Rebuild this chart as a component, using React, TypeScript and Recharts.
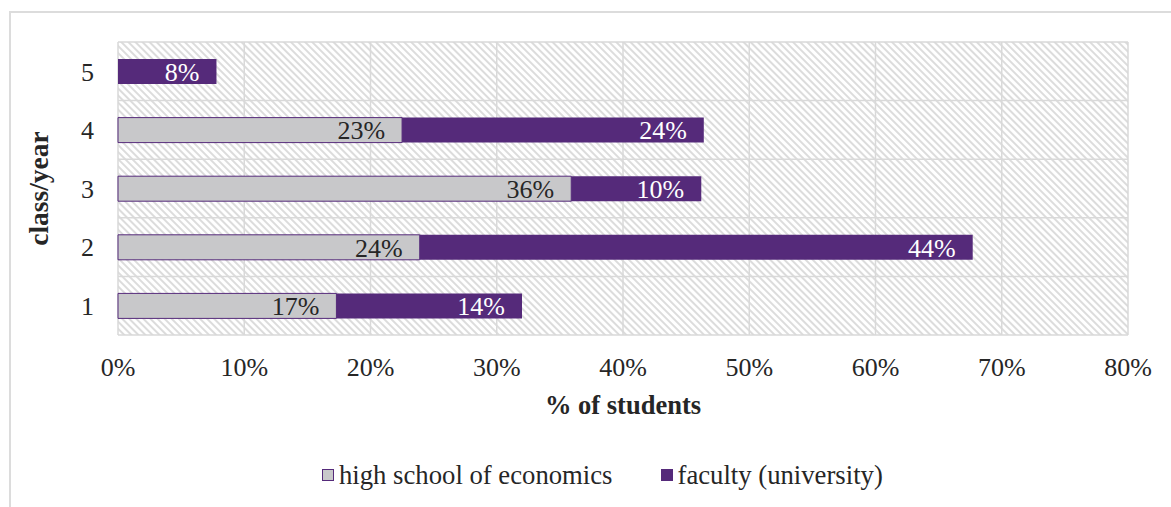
import React from 'react';
import { BarChart, Bar, XAxis, YAxis, CartesianGrid, Legend, LabelList } from 'recharts';

const classes = ['1', '2', '3', '4', '5'];
const highSchool = [17.3, 23.9, 35.9, 22.5, 0];
const faculty = [14.7, 43.8, 10.3, 23.9, 7.8];
const highSchoolLabels = ['17%', '24%', '36%', '23%', ''];
const facultyLabels = ['14%', '44%', '10%', '24%', '8%'];
const xTicks = [0, 10, 20, 30, 40, 50, 60, 70, 80];
const seriesNames = ['high school of economics', 'faculty (university)'];
const xTitle = '% of students';
const yTitle = 'class/year';

const data = classes.map((c, i) => ({
  cls: c,
  school: highSchool[i],
  faculty: faculty[i],
  schoolLabel: highSchoolLabels[i],
  facultyLabel: facultyLabels[i],
}));

const FONT = "'Liberation Serif', 'Times New Roman', serif";
const PURPLE = '#552a7a';
const GRAY = '#c8c8ca';
const TEXT = '#262626';
const GRID = '#d9d9d9';

const renderLegend = (props: any) => {
  const payload = [...(props.payload || [])].sort(
    (a: any, b: any) => seriesNames.indexOf(a.value) - seriesNames.indexOf(b.value)
  );
  return (
    <div style={{ display: 'flex', alignItems: 'center', fontFamily: FONT, fontSize: 26.7, color: TEXT, lineHeight: '30px' }}>
      {payload.map((p: any, i: number) => (
        <div key={i} style={{ display: 'flex', alignItems: 'center', marginRight: i === 0 ? 48 : 0 }}>
          <span
            style={{
              display: 'inline-block',
              width: 12,
              height: 12,
              background: p.color,
              border: `1.5px solid ${PURPLE}`,
              boxSizing: 'border-box',
              marginRight: 5,
            }}
          />
          <span>{p.value}</span>
        </div>
      ))}
    </div>
  );
};

const YTitle = (props: any) => {
  const vb = props.viewBox || { x: 0, y: 0, width: 0, height: 0 };
  const cx = 38;
  const cy = vb.y + vb.height / 2;
  return (
    <text
      x={cx}
      y={cy}
      transform={`rotate(-90 ${cx} ${cy})`}
      textAnchor="middle"
      dominantBaseline="central"
      style={{ fontFamily: FONT, fontSize: 27.5, fontWeight: 'bold', fill: TEXT }}
    >
      {yTitle}
    </text>
  );
};

const XTitle = (props: any) => {
  const vb = props.viewBox || { x: 0, y: 0, width: 0, height: 0 };
  const cx = vb.x + vb.width / 2;
  const cy = vb.y + 79;
  return (
    <text x={cx} y={cy} textAnchor="middle" style={{ fontFamily: FONT, fontSize: 26.5, fontWeight: 'bold', fill: TEXT }}>
      {xTitle}
    </text>
  );
};

export default function App() {
  return (
    <div style={{ position: 'absolute', left: 0, top: 0, width: 1171, height: 507, background: '#fff', overflow: 'hidden' }}>
      <svg width={0} height={0} style={{ position: 'absolute' }}>
        <defs>
          <pattern id="hatch" patternUnits="userSpaceOnUse" width={5} height={5} patternTransform="rotate(-45)">
            <rect x={0} y={0} width={5} height={5} fill="#ffffff" />
            <rect x={0} y={0} width={2} height={5} fill="#dcdcdc" />
          </pattern>
        </defs>
      </svg>
      <div
        style={{
          position: 'absolute',
          left: 9,
          top: 11,
          width: 1200,
          height: 600,
          borderTop: '2px solid #dcdcdc',
          borderLeft: '2px solid #dcdcdc',
          boxSizing: 'border-box',
        }}
      />
      <div style={{ position: 'absolute', left: 0, top: 0 }}>
        <BarChart
          width={1171}
          height={507}
          data={data}
          layout="vertical"
          margin={{ top: 42, right: 43, bottom: 0, left: 0 }}
          barSize={25}
        >
          <CartesianGrid
            stroke={GRID}
            strokeWidth={1.5}
            fill="url(#hatch)"
            fillOpacity={1}
            horizontalCoordinatesGenerator={(p: any) => {
              const o = p.offset;
              return classes.map((_, i) => o.top + (o.height * i) / classes.length).concat([o.top + o.height]);
            }}
          />
          <XAxis
            type="number"
            domain={[0, 80]}
            ticks={xTicks}
            tickFormatter={(v: number) => `${v}%`}
            axisLine={false}
            tickLine={false}
            tickSize={0}
            tickMargin={23}
            height={172}
            interval={0}
            tick={{ fontFamily: FONT, fontSize: 26, fill: TEXT }}
            label={{ content: XTitle }}
          />
          <YAxis
            type="category"
            dataKey="cls"
            reversed
            width={118}
            axisLine={false}
            tickLine={false}
            tickSize={0}
            tickMargin={24}
            tick={{ fontFamily: FONT, fontSize: 26, fill: TEXT }}
            label={{ content: YTitle }}
          />
          <Legend
            layout="vertical"
            align="center"
            verticalAlign="middle"
            content={renderLegend}
            wrapperStyle={{ position: 'absolute', left: 322, top: 460, width: 700, height: 32 }}
          />
          <Bar dataKey="school" name={seriesNames[0]} stackId="a" fill={GRAY} stroke={PURPLE} strokeWidth={1} isAnimationActive={false}>
            <LabelList dataKey="schoolLabel" position="insideRight" offset={17} style={{ fontFamily: FONT, fontSize: 26, fill: TEXT }} />
          </Bar>
          <Bar dataKey="faculty" name={seriesNames[1]} stackId="a" fill={PURPLE} isAnimationActive={false}>
            <LabelList dataKey="facultyLabel" position="insideRight" offset={17} style={{ fontFamily: FONT, fontSize: 26, fill: '#ffffff' }} />
          </Bar>
        </BarChart>
      </div>
    </div>
  );
}
